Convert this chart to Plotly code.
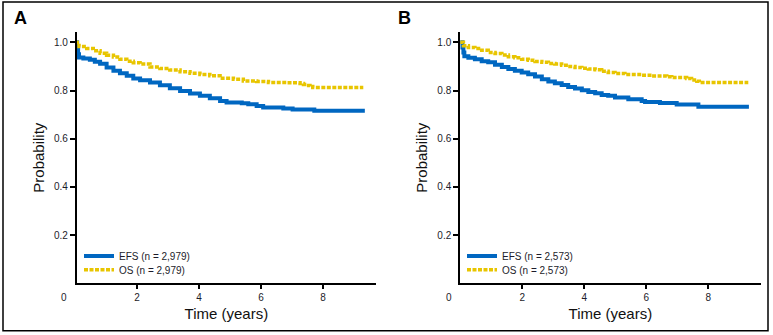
import plotly.graph_objects as go

# ---------------- data ----------------
efs_a_t = [0.0, 0.07, 0.10, 0.13, 0.27, 0.48, 0.64, 0.81, 1.02, 1.24, 1.45, 1.67, 1.88, 2.10, 2.42, 2.74,
           3.06, 3.39, 3.71, 4.03, 4.35, 4.68, 4.89, 5.38, 5.59, 5.86, 6.07, 6.72, 7.02, 7.72, 9.35]
efs_a_s = [1.0, 0.98, 0.951, 0.9375, 0.933, 0.928, 0.920, 0.911, 0.896, 0.882, 0.872, 0.861, 0.850, 0.843, 0.833, 0.822,
           0.810, 0.798, 0.7875, 0.778, 0.768, 0.757, 0.750, 0.747, 0.743, 0.736, 0.730, 0.726, 0.721, 0.7166, 0.7166]

os_a_t = [0.0, 0.13, 0.38, 0.59, 0.81, 1.02, 1.24, 1.45, 1.67, 1.88, 2.10, 2.42, 2.74, 3.06, 3.39, 3.71,
          4.03, 4.35, 4.68, 5.11, 5.43, 5.86, 6.24, 6.83, 7.26, 7.37, 7.47, 7.58, 7.67, 9.30]
os_a_s = [1.0, 0.983, 0.975, 0.965, 0.955, 0.947, 0.939, 0.930, 0.922, 0.915, 0.910, 0.898, 0.892, 0.885, 0.878, 0.872,
          0.867, 0.861, 0.851, 0.847, 0.840, 0.8375, 0.833, 0.832, 0.829, 0.825, 0.821, 0.8166, 0.8125, 0.8125]

efs_b_t = [0.0, 0.07, 0.10, 0.13, 0.26, 0.47, 0.69, 0.90, 1.12, 1.34, 1.55, 1.76, 1.98, 2.19, 2.41, 2.63,
           2.84, 3.05, 3.27, 3.48, 3.70, 3.92, 4.13, 4.35, 4.56, 4.77, 4.99, 5.42, 5.85, 5.96, 6.44, 6.98, 7.68, 9.31]
efs_b_s = [1.0, 0.979, 0.958, 0.942, 0.936, 0.930, 0.922, 0.917, 0.907, 0.898, 0.889, 0.882, 0.875, 0.868, 0.858, 0.847,
           0.8375, 0.830, 0.823, 0.815, 0.808, 0.801, 0.794, 0.789, 0.782, 0.778, 0.771, 0.764, 0.757, 0.7525, 0.748, 0.742, 0.733, 0.733]

os_b_t = [0.0, 0.10, 0.26, 0.47, 0.69, 0.90, 1.12, 1.34, 1.55, 1.76, 1.98, 2.19, 2.41, 2.63, 2.84, 3.05,
          3.27, 3.48, 3.70, 3.92, 4.13, 4.35, 4.56, 4.77, 4.99, 5.31, 5.85, 6.17, 6.66, 6.82, 7.30, 7.46, 7.63, 7.71, 9.29]
os_b_s = [1.0, 0.986, 0.979, 0.975, 0.967, 0.958, 0.954, 0.948, 0.940, 0.936, 0.930, 0.926, 0.921, 0.917, 0.9125, 0.910,
          0.905, 0.900, 0.896, 0.893, 0.889, 0.886, 0.880, 0.875, 0.871, 0.867, 0.864, 0.860, 0.857, 0.854, 0.850, 0.844, 0.839, 0.833, 0.833]

names_a = ["EFS (n = 2,979)", "OS (n = 2,979)"]
names_b = ["EFS (n = 2,573)", "OS (n = 2,573)"]
panel_labels = ["A", "B"]
x_tick_vals = [2, 4, 6, 8]
y_tick_vals = [0.2, 0.4, 0.6, 0.8, 1.0]
x_title = "Time (years)"
y_title = "Probability"

# ---------------- style ----------------
W, H = 773, 335
BLUE = "#0067C1"
YELLOW = "#E8C500"
TXT = "#1c1c2a"
TICKFONT = dict(family="Liberation Sans, Arial, sans-serif", size=10, color=TXT)
TITLEFONT = dict(family="Liberation Sans Narrow, Arial Narrow, Liberation Sans, sans-serif", size=15, color="#111")
LEGFONT = dict(family="Liberation Sans, Arial, sans-serif", size=10, color=TXT)


def px(x):
    return x / W


def py(y):
    return (H - y) / H


fig = go.Figure()

panels = [
    (efs_a_t, efs_a_s, os_a_t, os_a_s, names_a, "x", "y", "legend", "legend2"),
    (efs_b_t, efs_b_s, os_b_t, os_b_s, names_b, "x2", "y2", "legend3", "legend4"),
]
for et, es, ot, os_, nm, xa, ya, lg1, lg2 in panels:
    fig.add_trace(go.Scatter(x=et, y=es, mode="lines", line=dict(color=BLUE, width=4, shape="hv"),
                             name=nm[0], xaxis=xa, yaxis=ya, legend=lg1))
    fig.add_trace(go.Scatter(x=ot, y=os_, mode="lines",
                             line=dict(color=YELLOW, width=3.5, shape="hv", dash="4px,1.5px"),
                             name=nm[1], xaxis=xa, yaxis=ya, legend=lg2))

common_x = dict(showline=True, linecolor="black", linewidth=1.5, ticks="outside", ticklen=4, tickwidth=1.5,
                tickcolor="black", tickvals=x_tick_vals, tickfont=TICKFONT, showgrid=False, zeroline=False,
                title=dict(text=x_title, font=TITLEFONT, standoff=6))
common_y = dict(showline=True, linecolor="black", linewidth=1.5, ticks="outside", ticklen=5, tickwidth=1.5,
                tickcolor="black", tickvals=y_tick_vals, tickformat=".1f", tickfont=TICKFONT, showgrid=False,
                zeroline=False, range=[0, 1.043], title=dict(text=y_title, font=TITLEFONT, standoff=6))


def leg(xp, yp):
    return dict(x=px(xp), y=py(yp), xanchor="left", yanchor="top", bgcolor="rgba(0,0,0,0)",
                font=LEGFONT, tracegroupgap=0, itemwidth=30)


y_dom = [py(283.3), py(32)]
fig.update_layout(
    width=W, height=H, margin=dict(l=0, r=0, t=0, b=0),
    paper_bgcolor="white", plot_bgcolor="white",
    xaxis=dict(common_x, domain=[px(76.7), px(376)], range=[0.055, 9.71], anchor="y"),
    yaxis=dict(common_y, domain=y_dom, anchor="x"),
    xaxis2=dict(common_x, domain=[px(460), px(760.7)], range=[-0.01, 9.69], anchor="y2"),
    yaxis2=dict(common_y, domain=y_dom, anchor="x2"),
    legend=leg(79, 241.5),
    legend2=leg(79, 255.2),
    legend3=leg(462, 241.5),
    legend4=leg(462, 255.2),
    showlegend=True,
)

# outer frame
fig.add_shape(type="rect", xref="paper", yref="paper", x0=px(3), x1=px(768), y0=py(330.7), y1=py(2),
              line=dict(color="black", width=1.5), fillcolor="rgba(0,0,0,0)")

# panel letters and the shared origin "0" label
for lab, xl, x0 in zip(panel_labels, [12, 396], [64, 449]):
    fig.add_annotation(text="<b>%s</b>" % lab, xref="paper", yref="paper", x=px(xl), y=py(18),
                       xanchor="left", yanchor="middle", showarrow=False,
                       font=dict(family="Liberation Sans, Arial, sans-serif", size=18, color="black"))
    fig.add_annotation(text="0", xref="paper", yref="paper", x=px(x0), y=py(297),
                       xanchor="center", yanchor="middle", showarrow=False, font=TICKFONT)

fig.write_html("out.html")
